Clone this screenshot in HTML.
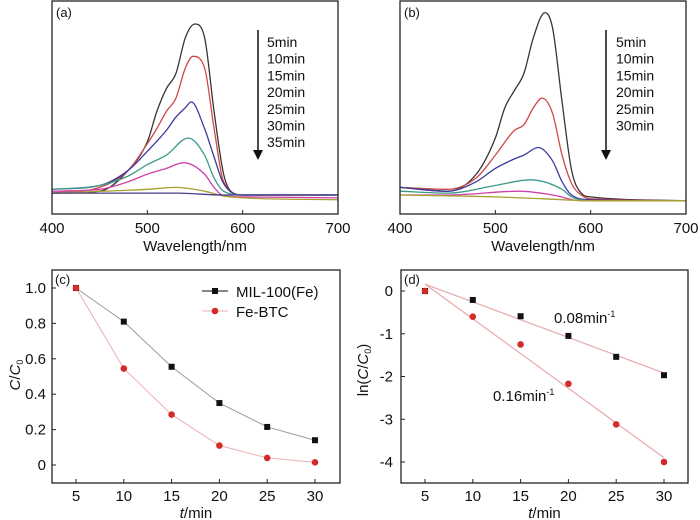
<!DOCTYPE html>
<html><head><meta charset="utf-8"><style>
body{margin:0;background:#fff}
svg{display:block;font-family:"Liberation Sans",Arial,sans-serif}
</style></head><body>
<svg id="fig" width="700" height="520" viewBox="0 0 700 520" xmlns="http://www.w3.org/2000/svg"></svg>
<script>
const NS="http://www.w3.org/2000/svg";
// ---- data ----
const specColors=["#3a3434","#d04848","#3c3a9a","#3c9a8a","#d040a8","#a8a030","#4a3a8a"];
const specA_wl=[[400,450,480,500,510,520,530,540,550,560,570,580,590,600,700],
[400,450,480,500,510,520,530,540,548,560,570,580,600,700],
[400,450,480,500,520,530,540,546,560,570,580,600,700],
[400,450,480,500,520,543,560,570,580,600,700],
[400,450,480,500,520,538,560,570,580,600,700],
[400,500,530,560,580,600,700],
[400,500,530,580,600,700]];
const specA_val=[[0.11,0.12,0.23,0.38,0.54,0.66,0.74,0.93,1.0,0.93,0.54,0.21,0.11,0.1,0.1],
[0.11,0.14,0.23,0.37,0.45,0.54,0.61,0.77,0.83,0.77,0.45,0.17,0.1,0.1],
[0.13,0.15,0.23,0.33,0.44,0.51,0.56,0.59,0.45,0.3,0.16,0.1,0.1],
[0.13,0.15,0.2,0.26,0.31,0.4,0.31,0.19,0.12,0.1,0.1],
[0.12,0.13,0.17,0.21,0.24,0.27,0.21,0.14,0.095,0.09,0.085],
[0.11,0.13,0.14,0.12,0.095,0.085,0.075],
[0.11,0.11,0.11,0.1,0.1,0.1]];
const specB_wl=[[400,450,480,500,510,520,530,540,552,560,570,580,590,600,700],
[400,450,480,500,520,530,540,549,560,570,580,590,600,700],
[400,450,480,500,520,530,545,560,570,580,600,700],
[400,450,500,537,570,580,600,700],
[400,450,525,560,590,700],
[400,500,550,600,700]];
const specB_val=[[0.14,0.12,0.21,0.4,0.56,0.65,0.74,0.93,1.06,0.98,0.59,0.23,0.11,0.09,0.07],
[0.14,0.13,0.19,0.31,0.44,0.47,0.56,0.61,0.53,0.31,0.16,0.1,0.08,0.07],
[0.14,0.12,0.17,0.24,0.29,0.31,0.35,0.28,0.17,0.1,0.075,0.07],
[0.12,0.11,0.15,0.18,0.13,0.09,0.07,0.07],
[0.1,0.1,0.12,0.1,0.07,0.07],
[0.1,0.09,0.08,0.07,0.07]];
const labelsA=["5min","10min","15min","20min","25min","30min","35min"];
const labelsB=["5min","10min","15min","20min","25min","30min"];
const tMin=[5,10,15,20,25,30];
const cMIL=[1.0,0.81,0.555,0.35,0.215,0.14];
const cBTC=[1.0,0.545,0.285,0.11,0.04,0.015];
const lnMIL=[0,-0.21,-0.59,-1.05,-1.54,-1.97];
const lnBTC=[0,-0.6,-1.25,-2.17,-3.12,-4.0];
const fitMIL=[0.16,-1.92];
const fitBTC=[0.16,-3.9];
const wlTicks=[400,500,600,700];
const cTicks=[0,0.2,0.4,0.6,0.8,1.0];
const cTickLabels=["0","0.2","0.4","0.6","0.8","1.0"];
const lnTicks=[0,-1,-2,-3,-4];
const tTicks=[5,10,15,20,25,30];
// ---- helpers ----
const svg=document.getElementById('fig');
function el(tag,attrs,parent){const e=document.createElementNS(NS,tag);for(const k in attrs)e.setAttribute(k,attrs[k]);(parent||svg).appendChild(e);return e;}
function txt(s,x,y,size,anchor,parent){const t=el('text',{x:x,y:y,'font-size':size,'text-anchor':anchor||'start',fill:'#111'},parent);t.textContent=s;return t;}
function smooth(pts){ // monotone cubic
  const n=pts.length,dx=[],m=[],s=[];
  for(let i=0;i<n-1;i++){dx[i]=pts[i+1][0]-pts[i][0];s[i]=(pts[i+1][1]-pts[i][1])/dx[i];}
  m[0]=s[0];m[n-1]=s[n-2];
  for(let i=1;i<n-1;i++){m[i]=(s[i-1]*s[i]<=0)?0:(s[i-1]+s[i])/2;}
  for(let i=0;i<n-1;i++){if(s[i]===0){m[i]=0;m[i+1]=0;continue;}const a=m[i]/s[i],b=m[i+1]/s[i],h=a*a+b*b;if(h>9){const t=3/Math.sqrt(h);m[i]=t*a*s[i];m[i+1]=t*b*s[i];}}
  let d="M"+pts[0][0]+","+pts[0][1];
  for(let i=0;i<n-1;i++){const h=dx[i]/3;d+=` C${pts[i][0]+h},${pts[i][1]+m[i]*h} ${pts[i+1][0]-h},${pts[i+1][1]-m[i+1]*h} ${pts[i+1][0]},${pts[i+1][1]}`;}
  return d;}
function box(x0,y0,x1,y1,name){const r=el('rect',{x:x0,y:y0,width:x1-x0,height:y1-y0,fill:'none',stroke:'#222','stroke-width':1.3});}
// ---- spectra panels ----
function spectra(px0,px1,wls,vals,labels,tag,legX,arrX,name){
  const g=el('g',{});
  const top=1,bot=214;
  const xs=w=>px0+(w-400)/300*(px1-px0);
  const ys=a=>bot-a*190;
  for(let i=0;i<wls.length;i++){const pts=wls[i].map((w,j)=>[xs(w),ys(vals[i][j])]);
    const p=el('path',{d:smooth(pts),fill:'none',stroke:specColors[i],'stroke-width':1.3},g);
    }
  box(px0,top,px1,bot,name+'-frame');
  wlTicks.forEach(w=>{el('line',{x1:xs(w),x2:xs(w),y1:bot,y2:bot-4,stroke:'#222'},g);
    const t=txt(String(w),xs(w),233,15,'middle',g);});
  const xl=txt('Wavelength/nm',(px0+px1)/2,251,15,'middle',g);
  const pl=txt(tag,px0+4,17,13,'start',g);
  labels.forEach((s,i)=>{const t=txt(s,legX,47+i*16.7,14,'start',g);});
  el('line',{x1:arrX,x2:arrX,y1:30,y2:150,stroke:'#111','stroke-width':1.5},g);
  const a=el('polygon',{points:`${arrX-5},150 ${arrX+5},150 ${arrX},160`,fill:'#111'},g);
}
spectra(52,338,specA_wl,specA_val,labelsA,'(a)',267,258,'panel-a');
spectra(400,686,specB_wl,specB_val,labelsB,'(b)',616,606,'panel-b');
// ---- kinetics panels ----
function kin(px0,px1,y0v,y0px,ppu,ticks,tlabels,tickRight,name){
  const g=el('g',{});
  const top=270,bot=483;
  const tx0=px0+24;
  const xs=t=>tx0+(t-5)*9.56;
  const ys=v=>y0px-(v-y0v)*ppu;
  box(px0,top,px1,bot,name+'-frame');
  tTicks.forEach(t=>{el('line',{x1:xs(t),x2:xs(t),y1:bot,y2:bot-4,stroke:'#222'},g);
    const l=txt(String(t),xs(t),501,15,'middle',g);});
  ticks.forEach((v,i)=>{el('line',{x1:px0,x2:px0+4,y1:ys(v),y2:ys(v),stroke:'#222'},g);
    const l=txt(tlabels[i],tickRight,ys(v)+5,15,'end',g);});
  const xl=el('text',{x:(px0+px1)/2,y:518,'font-size':15,'text-anchor':'middle',fill:'#111'},g);
  xl.innerHTML='<tspan font-style="italic">t</tspan>/min';
  return {g,xs,ys};
}
// (c)
const C=kin(52,340,0,465,177,cTicks,cTickLabels,46,'panel-c');
function series(P,xsArr,ys,color,shape,lineColor,name,connect){
  if(connect){const pts=xsArr.map((t,i)=>P.xs(t)+','+P.ys(ys[i])).join(' ');
    const pl=el('polyline',{points:pts,fill:'none',stroke:lineColor,'stroke-width':1},P.g);}
  xsArr.forEach((t,i)=>{let m;const x=P.xs(t),y=P.ys(ys[i]);
    if(shape==='sq')m=el('rect',{x:x-3,y:y-3,width:6,height:6,fill:color},P.g);
    else m=el('circle',{cx:x,cy:y,r:3.3,fill:color},P.g);
    });
}
series(C,tMin,cMIL,'#111','sq','#9a9a9a','mil100',true);
series(C,tMin,cBTC,'#d42a2a','ci','#eab0b0','febtc',true);
{const pl=txt('(c)',55,284,13,'start',C.g);
 const yl=el('text',{x:0,y:0,'font-size':15,'text-anchor':'middle',fill:'#111',transform:'translate(20,375) rotate(-90)'},C.g);
 yl.innerHTML='<tspan font-style="italic">C</tspan>/<tspan font-style="italic">C</tspan><tspan font-size="9" dy="3">0</tspan>';
 
 el('line',{x1:202,x2:228,y1:291,y2:291,stroke:'#111'},C.g);
 const m1=el('rect',{x:212,y:288,width:6,height:6,fill:'#111'},C.g);
 const t1=txt('MIL-100(Fe)',236,297,15,'start',C.g);
 el('line',{x1:202,x2:228,y1:311,y2:311,stroke:'#eab0b0'},C.g);
 const m2=el('circle',{cx:215,cy:311,r:3.3,fill:'#d42a2a'},C.g);
 const t2=txt('Fe-BTC',236,317,15,'start',C.g);}
// (d)
const D=kin(401,688,0,291,42.75,lnTicks,lnTicks.map(String),393,'panel-d');
[[fitMIL,'fit-mil100'],[fitBTC,'fit-febtc']].forEach(([f,n])=>{const l=el('line',{x1:D.xs(5),y1:D.ys(f[0]),x2:D.xs(30),y2:D.ys(f[1]),stroke:'#e8a8a8','stroke-width':1.2},D.g);});
series(D,tMin,lnMIL,'#111','sq','#999','ln-mil100',false);
series(D,tMin,lnBTC,'#d42a2a','ci','#e8a0a0','ln-febtc',false);
{const pl=txt('(d)',404,284,13,'start',D.g);
 const yl=el('text',{x:0,y:0,'font-size':15,'text-anchor':'middle',fill:'#111',transform:'translate(368,370) rotate(-90)'},D.g);
 yl.innerHTML='ln(<tspan font-style="italic">C</tspan>/<tspan font-style="italic">C</tspan><tspan font-size="9" dy="3">0</tspan><tspan dy="-3">)</tspan>';
 
 const a1=el('text',{x:554,y:323,'font-size':15,fill:'#111'},D.g);a1.innerHTML='0.08min<tspan font-size="9" dy="-6">-1</tspan>';
 const a2=el('text',{x:493,y:401,'font-size':15,fill:'#111'},D.g);a2.innerHTML='0.16min<tspan font-size="9" dy="-6">-1</tspan>';}
</script>
</body></html>
